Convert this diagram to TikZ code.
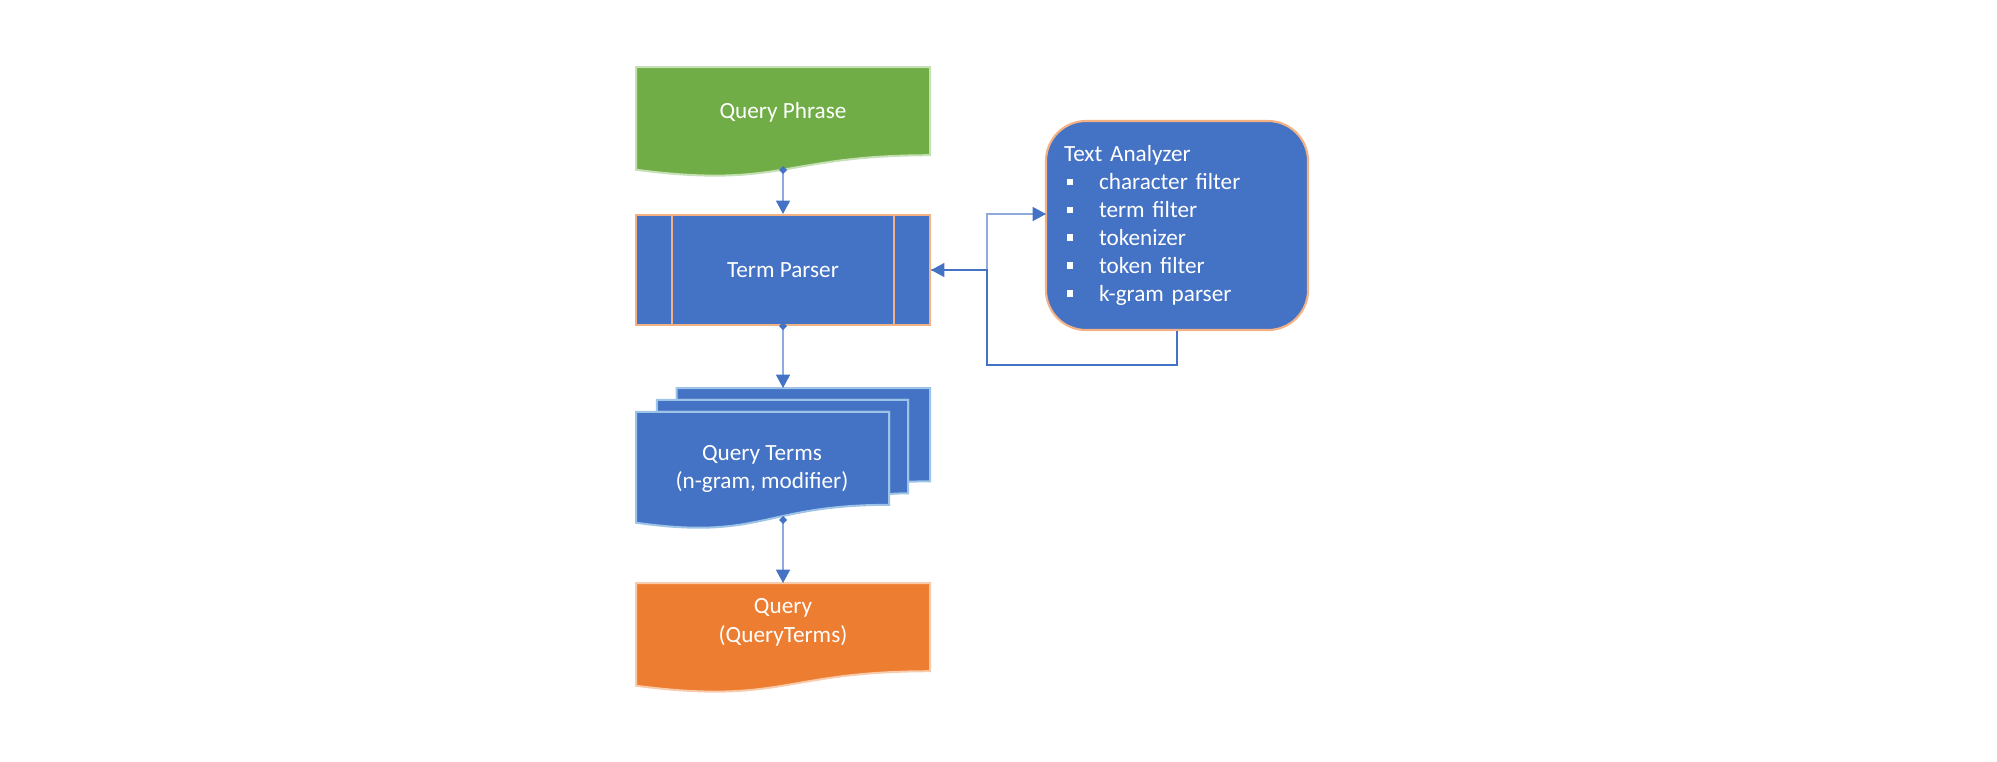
\documentclass[tikz,border=0pt]{standalone}
\usepackage{fontspec}
\setmainfont{Carlito}
\usepackage{xcolor}
\usepackage{tikz}
\usetikzlibrary{calc, arrows.meta, positioning}
\definecolor{qblue}{HTML}{4472C4}
\definecolor{linkblue}{HTML}{8FAADC}
\definecolor{qgreen}{HTML}{70AD47}
\definecolor{qgreenline}{HTML}{C5E0B4}
\definecolor{qorange}{HTML}{ED7D31}
\definecolor{qorangeline}{HTML}{F8CBAD}
\definecolor{parserline}{HTML}{F4B183}
\definecolor{termsline}{HTML}{9DC3E6}
\tikzset{
  flowtext/.style={text=white, align=center, font=\fontsize{17.4}{21.5}\selectfont},
  docborder/.style={line width=1.5pt},
  procbox/.style={draw=parserline, fill=qblue, line width=1.6pt, flowtext},
  multidoc/.style={draw=termsline, fill=qblue, line width=1.5pt},
  anabox/.style={draw=parserline, fill=qblue, line width=1.6pt, rounded corners=30pt,
    minimum width=196.5pt, minimum height=156.75pt, text width=169.5pt, inner xsep=13.5pt,
    align=left, text=white, font=\fontsize{17.4}{20.9}\selectfont},
  link/.style={draw=linkblue, line width=1.1pt, shorten <=-3pt,
    {Diamond[length=6pt,width=6pt,color=qblue]}-{Triangle[length=10pt,width=10.5pt,color=qblue]}},
  feedin/.style={draw=linkblue, line width=1.1pt, -{Triangle[length=10pt,width=10.5pt,color=qblue]}},
  feedback/.style={draw=qblue, line width=1.1pt, -{Triangle[length=10pt,width=10.5pt,color=qblue]}},
}
% document shape: x1, y1, x2, height, fill, border
\def\docshape#1#2#3#4#5#6{
    \pgfmathsetmacro\dsxm{(#1+#3)/2}
    \pgfmathsetmacro\dsyr{#2+0.802*#4}
    \pgfmathsetmacro\dsyl{#2+0.934*#4}
    \pgfmathsetmacro\dsyc{#2+1.108*#4}
    \draw[fill=#5, draw=#6, docborder] (#1,#2) -- (#3,#2) -- (#3,\dsyr)
        .. controls (\dsxm,\dsyr) and (\dsxm,\dsyc) .. (#1,\dsyl) -- cycle;
}
\def\bulletitem{\makebox[26.25pt][l]{\hspace{2.25pt}\rule[3.5pt]{4.8pt}{4.8pt}}}

\begin{document}
\begin{tikzpicture}[x=0.75pt, y=-0.75pt]
    \useasboundingbox (0,0) rectangle (1997,761);

    % Query Phrase (document)
    \docshape{636}{67}{930}{110}{qgreen}{qgreenline}
    \node[flowtext] (phrase) at (783,112) {Query Phrase};
    \coordinate (phrase-out) at (783,170);

    % Term Parser (predefined process)
    \node[procbox, minimum width=220.5pt, minimum height=82.5pt] (parser) at (783,270) {Term Parser};
    \draw[draw=parserline, line width=1.6pt] ($(parser.north west)+(37,0)$) -- ($(parser.south west)+(37,0)$);
    \draw[draw=parserline, line width=1.6pt] ($(parser.north east)+(-37,0)$) -- ($(parser.south east)+(-37,0)$);

    % Query Terms (multi-document, back to front)
    \draw[multidoc] (676.5,399.8) -- (676.5,388) -- (930,388) -- (930,481.3)
        .. controls (919.1,481.3) and (908.2,481.8) .. (908.2,481.8) -- (908.2,399.8) -- cycle;
    \draw[multidoc] (656.9,411.8) -- (656.9,399.8) -- (908.2,399.8) -- (908.2,493.3)
        .. controls (898.7,493.3) and (889.1,494) .. (889.1,494) -- (889.1,411.8) -- cycle;
    \draw[multidoc] (636,411.8) -- (889.1,411.8) -- (889.1,504.8)
        .. controls (762.6,504.8) and (762.6,540.6) .. (636,522.7) -- cycle;
    \node[flowtext] (terms) at (762,469) {Query Terms\\(n-gram, modifier)};
    \coordinate (terms-in) at (783,388);
    \coordinate (terms-out) at (783,520);

    % Query (document)
    \docshape{636}{583}{930}{110}{qorange}{qorangeline}
    \node[flowtext] (query) at (783,622) {Query\\(QueryTerms)};
    \coordinate (query-in) at (783,583);

    % Text Analyzer
    \node[anabox] (analyzer) at (1177,225.5) {Text Analyzer\\
        \bulletitem character filter\\
        \bulletitem term filter\\
        \bulletitem tokenizer\\
        \bulletitem token filter\\
        \bulletitem k-gram parser};
    \coordinate (ta-in) at (1046,214);
    \coordinate (fork) at (987,365);

    % Connectors
    \draw[link] (phrase-out) -- (parser.north);
    \draw[link] (parser.south) -- (terms-in);
    \draw[link] (terms-out) -- (query-in);
    \draw[feedin] (parser.east) -| (ta-in -| fork) -- (ta-in);
    \draw[feedback] (analyzer.south) |- (fork) |- (parser.east);
\end{tikzpicture}
\end{document}
